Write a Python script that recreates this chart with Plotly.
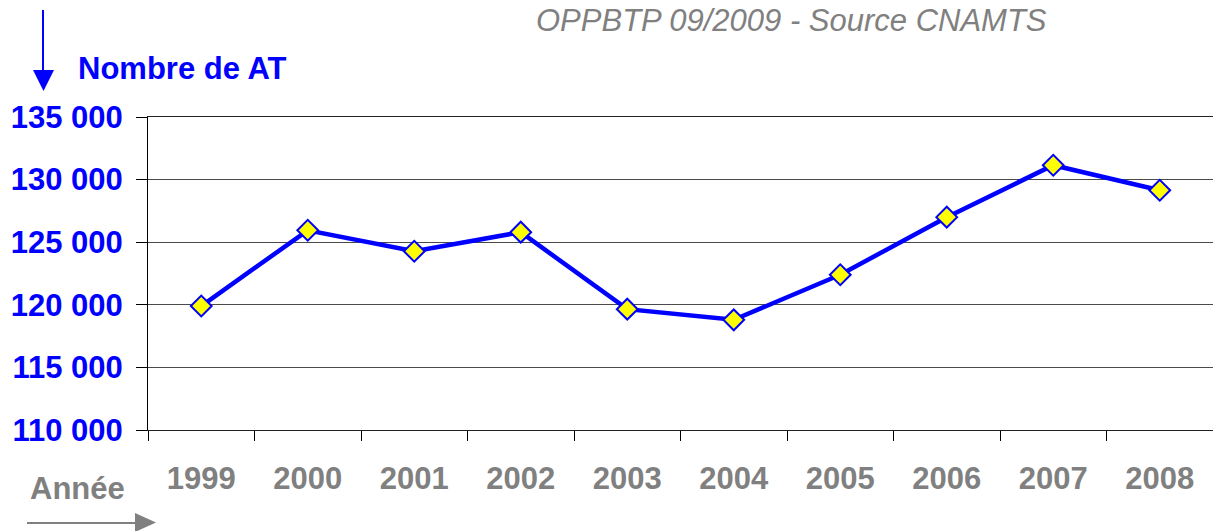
import plotly.graph_objects as go

years = ["1999", "2000", "2001", "2002", "2003", "2004", "2005", "2006", "2007", "2008"]
accidents = [119900, 125950, 124280, 125800, 119650, 118800, 122400, 127000, 131150, 129150]
y_ticks = [110000, 115000, 120000, 125000, 130000, 135000]
y_tick_text = ["110 000", "115 000", "120 000", "125 000", "130 000", "135 000"]

FONT = "Liberation Sans"
BLUE = "#0000FF"
GRAY = "#808080"
FS = 31

fig = go.Figure()
fig.add_trace(go.Scatter(
    x=years, y=accidents, mode="lines+markers",
    line=dict(color=BLUE, width=4.5),
    marker=dict(symbol="diamond", size=16, color="#FFFF00", line=dict(color=BLUE, width=2)),
    showlegend=False,
))

L, R, T, B = 148, 0, 117, 101
W, H = 1213, 531
pw, ph = W - L - R, H - T - B

def px(x):
    return (x - L) / pw

def py(y):
    return (H - B - y) / ph

fig.update_layout(
    width=W, height=H,
    margin=dict(l=L, r=R, t=T, b=B),
    paper_bgcolor="white", plot_bgcolor="white",
    font=dict(family=FONT),
    xaxis=dict(
        type="category", tickson="boundaries", ticks="outside", ticklen=10,
        tickcolor="black", tickwidth=1, showline=True, linecolor="#222222", linewidth=1,
        mirror=True, showgrid=False, ticklabelstandoff=21,
        tickfont=dict(family=FONT, size=FS, color=GRAY, weight="bold"),
        range=[-0.5, 9.5],
    ),
    yaxis=dict(
        range=[110000, 135000], tickvals=y_ticks, ticktext=y_tick_text,
        ticks="outside", ticklen=11, tickcolor="black", tickwidth=1,
        showline=True, linecolor="black", linewidth=1,
        showgrid=True, gridcolor="#4a4a4a", gridwidth=1, zeroline=False,
        ticklabelstandoff=7,
        tickfont=dict(family=FONT, size=FS, color=BLUE, weight="bold"),
    ),
)

fig.add_annotation(
    x=px(76), y=py(68), xref="paper", yref="paper", xanchor="left", yanchor="middle",
    text="<b>Nombre de AT</b>", showarrow=False,
    font=dict(family=FONT, size=FS, color=BLUE),
)
fig.add_annotation(
    x=px(28), y=py(489), xref="paper", yref="paper", xanchor="left", yanchor="middle",
    text="<b>Année</b>", showarrow=False,
    font=dict(family=FONT, size=FS, color=GRAY),
)
fig.add_annotation(
    x=px(1049), y=py(20), xref="paper", yref="paper", xanchor="right", yanchor="middle",
    text="<i>OPPBTP 09/2009 - Source CNAMTS</i>", showarrow=False,
    font=dict(family=FONT, size=FS, color=GRAY),
)

# vertical blue arrow
fig.add_shape(type="line", xref="paper", yref="paper",
              x0=px(43), x1=px(43), y0=py(10), y1=py(72), line=dict(color=BLUE, width=2))
fig.add_shape(type="path", xref="paper", yref="paper",
              path=f"M {px(33)} {py(70)} L {px(54)} {py(70)} L {px(43.5)} {py(91)} Z",
              fillcolor=BLUE, line=dict(color=BLUE, width=0))
# horizontal gray arrow
fig.add_shape(type="line", xref="paper", yref="paper",
              x0=px(27), x1=px(137), y0=py(523), y1=py(523), line=dict(color=GRAY, width=2))
fig.add_shape(type="path", xref="paper", yref="paper",
              path=f"M {px(135)} {py(513)} L {px(135)} {py(532)} L {px(156)} {py(522.5)} Z",
              fillcolor=GRAY, line=dict(color=GRAY, width=0))

fig.write_html(
    "out.html",
    config={"displayModeBar": False},
    post_script="document.body.style.margin='0';document.body.style.overflow='hidden';",
)
